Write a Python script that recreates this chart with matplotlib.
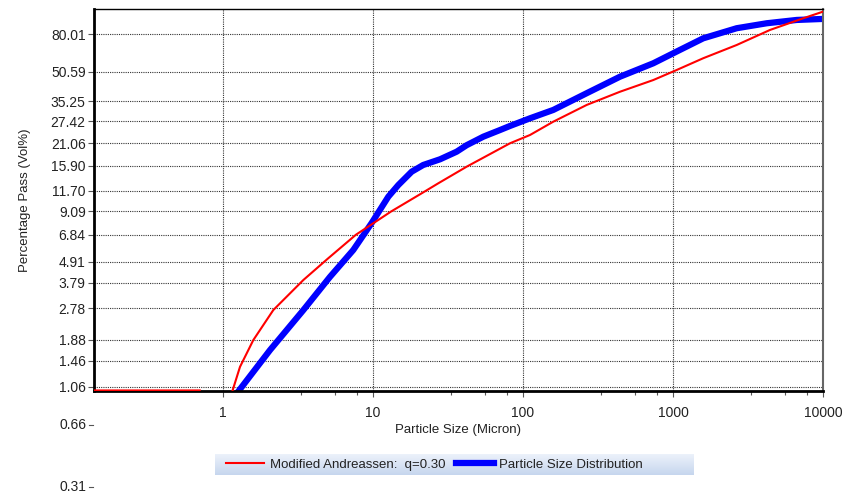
import numpy as np
import matplotlib
matplotlib.use("Agg")
import matplotlib.pyplot as plt
from matplotlib.lines import Line2D
from matplotlib.transforms import blended_transform_factory

# values
red_size = [0.138, 0.70, np.nan, 1.153, 1.298, 1.592, 2.164, 3.43, 5.0, 7.7, 13.2, 21.1,
            27.25, 42.1, 81.9, 111.4, 159.2, 265.9, 443, 739, 1059, 1592, 2659,
            4433, 7391, 10000]
red_pass = [1.012, 1.012, np.nan, 1.0, 1.352, 1.877, 2.713, 3.92, 5.1, 6.84, 9.09, 11.36,
            12.85, 15.75, 20.99, 23.24, 27.36, 33.6, 39.5, 45.6, 51.6, 59.6, 70.1,
            84.3, 97.3, 105.5]

blue_size = [1.265, 2.058, 3.43, 5.17, 7.39, 9.8, 12.65, 14.75, 18.1, 21.6, 28.0, 36.1,
             42.1, 54.4, 70.3, 81.9, 111.4, 159.2, 265.9, 443, 739, 1113, 1592, 2659,
             4214, 6678, 10000]
blue_pass = [1.0, 1.661, 2.71, 4.08, 5.67, 7.9, 10.9, 12.58, 14.81, 16.08, 17.25, 18.93,
             20.5, 22.76, 24.7, 25.96, 28.52, 31.6, 38.8, 47.5, 56.0, 66.0, 76.1, 86.1,
             91.5, 95.3, 96.5]

y_ticks = [1.06, 1.46, 1.88, 2.78, 3.79, 4.91, 6.84, 9.09, 11.70, 15.90, 21.06, 27.42,
           35.25, 50.59, 80.01]
y_ticks_below = [0.66, 0.31]
x_ticks = [1, 10, 100, 1000, 10000]

plt.rcParams['font.family'] = ['Liberation Sans', 'DejaVu Sans']
plt.rcParams['font.size'] = 10

fig = plt.figure(figsize=(8.53, 4.94), dpi=100)
ax = fig.add_axes([94 / 853, 1 - 391 / 494, (823 - 94) / 853, (391 - 9) / 494])

ax.plot(red_size, red_pass, color='#ff0000', lw=1.5, zorder=3)
ax.plot(blue_size, blue_pass, color='#0000ff', lw=4.5, zorder=2)

ax.set_xscale('log')
ax.set_yscale('log')
ax.set_xlim(0.138, 10000)
ax.set_ylim(1.005, 109)

ax.xaxis.set_major_locator(matplotlib.ticker.FixedLocator(x_ticks))
ax.xaxis.set_major_formatter(matplotlib.ticker.FixedFormatter([str(v) for v in x_ticks]))
minor = [m * 10 ** d for d in range(0, 4) for m in (3.3, 5.6, 7.8)]
ax.xaxis.set_minor_locator(matplotlib.ticker.FixedLocator(minor))
ax.xaxis.set_minor_formatter(matplotlib.ticker.NullFormatter())
ax.yaxis.set_major_locator(matplotlib.ticker.FixedLocator(y_ticks))
ax.yaxis.set_major_formatter(matplotlib.ticker.FixedFormatter(['%.2f' % v for v in y_ticks]))
ax.yaxis.set_minor_locator(matplotlib.ticker.NullLocator())

ax.tick_params(axis='both', which='major', direction='out', length=4, width=0.8,
               color='#555555', labelcolor='#222222', labelsize=10)
ax.tick_params(axis='x', which='minor', direction='out', length=3, width=0.8, color='#555555')
ax.tick_params(axis='x', pad=7)
ax.tick_params(axis='y', pad=2)

ax.grid(True, which='major', color='#333333', linestyle=(0, (1, 1)), linewidth=0.8)

ax.spines['left'].set_linewidth(2)
ax.spines['bottom'].set_linewidth(2)
ax.spines['top'].set_linewidth(1)
ax.spines['right'].set_linewidth(1.5)
ax.spines['right'].set_color('#666666')

# extra labels drawn below the plot area
trans = blended_transform_factory(ax.transAxes, ax.transData)
for v in y_ticks_below:
    ax.text(-0.0105, v, '%.2f' % v, transform=trans, ha='right', va='center',
            fontsize=10, color='#222222', clip_on=False)
    ax.plot([-0.0075, -0.002], [v, v], transform=trans, color='#555555', lw=0.8, clip_on=False)

ax.set_xlabel('Particle Size (Micron)', fontsize=9.5, color='#222222', labelpad=3)
ax.set_ylabel('Percentage Pass (Vol%)', fontsize=9.5, color='#222222', labelpad=14)

# legend with gradient band behind it
lax = fig.add_axes([215 / 853, 1 - 475 / 494, (694 - 215) / 853, 21 / 494])
grad = np.linspace(0, 1, 50).reshape(-1, 1)
cmap = matplotlib.colors.LinearSegmentedColormap.from_list('band', ['#eef3fb', '#c6d6ee'])
lax.imshow(grad, aspect='auto', cmap=cmap, extent=[0, 1, 0, 1])
lax.set_axis_off()

handles = [Line2D([], [], color='#ff0000', lw=1.5), Line2D([], [], color='#0000ff', lw=4.5)]
labels = ['Modified Andreassen:  q=0.30', 'Particle Size Distribution']
fig.legend(handles, labels, loc='center', bbox_to_anchor=(434.5 / 853, 1 - 464.5 / 494),
           ncol=2, frameon=False, fontsize=9.5, handlelength=2.9, handletextpad=0.4,
           columnspacing=0.8, labelcolor='#222222')

fig.savefig('out.png', dpi=100)
